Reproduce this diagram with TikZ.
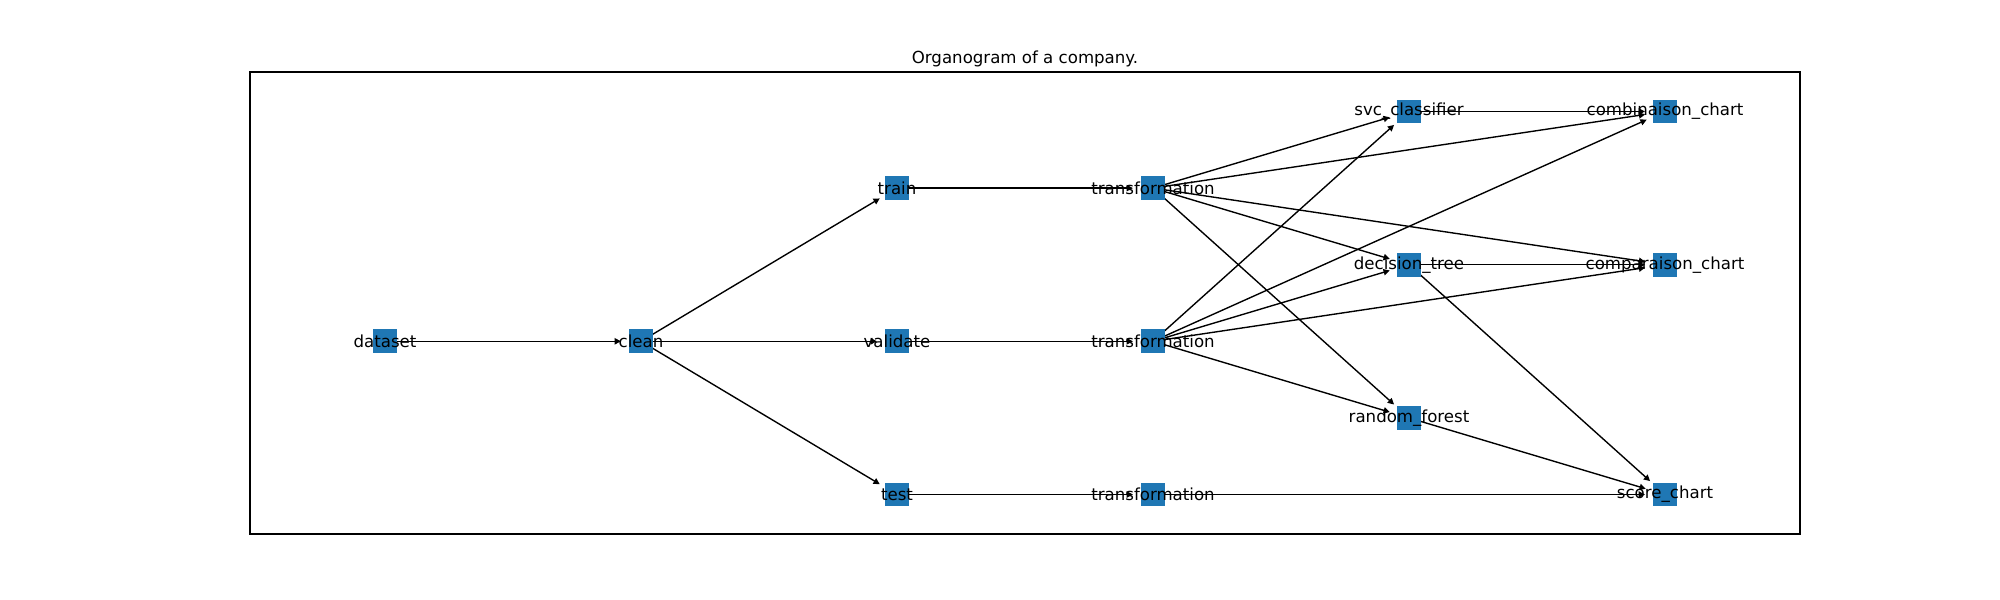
\documentclass[tikz,border=0pt]{standalone}
\usepackage{fontspec}
\setmainfont{DejaVu Sans}
\usetikzlibrary{arrows.meta,backgrounds}

\definecolor{nxblue}{RGB}{31,119,180}

\tikzset{
  vertex/.style={fill=nxblue, draw=none, minimum size=17.3pt, inner sep=0pt},
  vlabel/.style={font=\fontsize{12}{14}\selectfont, inner sep=0pt},
  edge/.style={-{Triangle[length=4.5pt,width=4.5pt]}, line width=1pt,
    shorten >=14.5pt}
}

\begin{document}
\begin{tikzpicture}[x=0.01in, y=-0.01in]
  \useasboundingbox (0,0) rectangle (2000,600);
  \draw [line width=0.8pt] (250,72) rectangle (1800,534);
  \node [vlabel, anchor=base] (title) at (1025,63.5) {Organogram of a company.};
  % squares: name / column / row
  \foreach \name/\col/\row in {dataset/0/3, clean/1/3, train/2/1, validate/2/3, test/2/5,
      trftrain/3/1, trfval/3/3, trftest/3/5, svc/4/0, tree/4/2, forest/4/4,
      combi/5/0, compa/5/2, score/5/5}
    \node [vertex] (\name) at ({385+256*\col},{111.5+76.6*\row}) {};
  % edges, under the squares
  \begin{scope}[on background layer]
    \foreach \a/\b in {dataset/clean, clean/train, clean/validate, clean/test,
        train/trftrain, validate/trfval, test/trftest,
        trftrain/svc, trftrain/combi, trftrain/tree, trftrain/compa, trftrain/forest,
        trfval/svc, trfval/combi, trfval/tree, trfval/compa, trfval/forest,
        trftest/score, svc/combi, tree/compa, tree/score, forest/score}
      \draw [edge] (\a.center) -- (\b.center);
  \end{scope}
  % labels
  \foreach \name/\txt in {dataset/dataset, clean/clean, train/train, validate/validate,
      test/test, trftrain/transformation, trfval/transformation, trftest/transformation,
      svc/svc\_classifier, tree/decision\_tree, forest/random\_forest,
      combi/combinaison\_chart, compa/comparaison\_chart, score/score\_chart}
    \node [vlabel] (\name-txt) at (\name) {\txt};
\end{tikzpicture}
\end{document}
